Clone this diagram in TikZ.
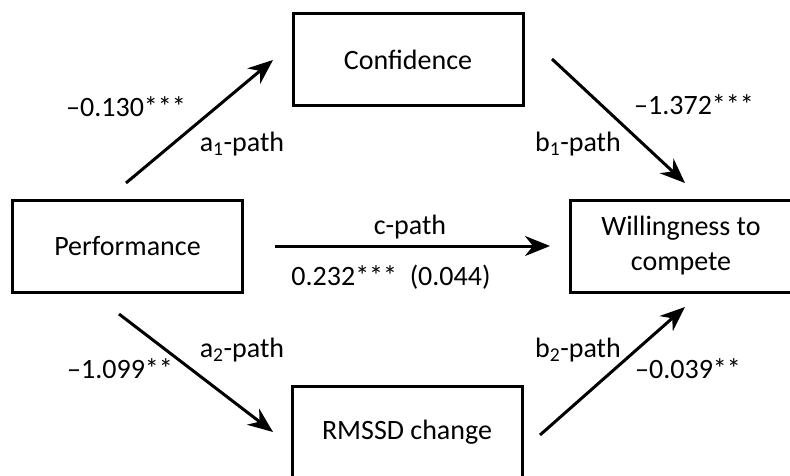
\documentclass[tikz,border=0pt]{standalone}
\usepackage{fontspec}
\setmainfont{Carlito}
\usetikzlibrary{arrows.meta}

\begin{document}
\begin{tikzpicture}[x=1pt,y=-1pt,
    every node/.style={font=\fontsize{28}{35}\selectfont},
    var/.style={draw,line width=3pt,minimum width=230pt,minimum height=92pt,align=center,inner sep=0pt},
    stream/.style={-{Stealth[length=25pt,width=20pt,inset=8pt]},line width=3pt},
    coef/.style={inner sep=0pt}]
    \useasboundingbox (0,0) rectangle (790,476);
    %variables
    \node [var] (perf) at (127.5,246.5) {Performance};
    \node [var] (conf) at (408,60) {Confidence};
    \node [var,minimum width=222pt] (will) at (681,246) {Willingness to\\compete};
    \node [var] (rmssd) at (407,432) {RMSSD change};
    %arrow ends
    \coordinate (a1 from) at (126,183);
    \coordinate (a1 to) at (273,60);
    \coordinate (b1 from) at (552,59);
    \coordinate (b1 to) at (685,183);
    \coordinate (c from) at (275,246);
    \coordinate (c to) at (550,246);
    \coordinate (a2 from) at (119,314);
    \coordinate (a2 to) at (273,432);
    \coordinate (b2 from) at (540,435);
    \coordinate (b2 to) at (685,307);
    %paths
    \draw [stream] (a1 from) -- (a1 to);
    \draw [stream] (b1 from) -- (b1 to);
    \draw [stream] (c from) -- (c to);
    \draw [stream] (a2 from) -- (a2 to);
    \draw [stream] (b2 from) -- (b2 to);
    %labels
    \node [coef] (a1 coef) at (126,107) {–0.130***};
    \node [coef] (a1 name) at (242,144) {a\textsubscript{1}-path};
    \node [coef] (b1 coef) at (694,105) {–1.372***};
    \node [coef] (b1 name) at (578,144) {b\textsubscript{1}-path};
    \node [coef] (c name) at (410,227) {c-path};
    \node [coef] (c coef) at (391,277) {0.232***\ \ (0.044)};
    \node [coef] (a2 name) at (242,350) {a\textsubscript{2}-path};
    \node [coef] (a2 coef) at (120,369) {–1.099**};
    \node [coef] (b2 name) at (578,350) {b\textsubscript{2}-path};
    \node [coef] (b2 coef) at (688,369) {–0.039**};
\end{tikzpicture}
\end{document}
